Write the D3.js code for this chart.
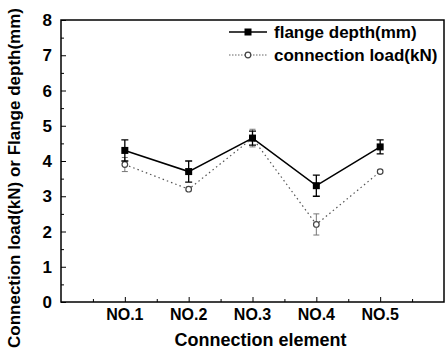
<!DOCTYPE html>
<html>
<head>
<meta charset="utf-8">
<script src="https://cdn.jsdelivr.net/npm/d3@7"></script>
<style>
  body { margin: 0; background: #fff; }
  svg { display: block; font-family: "Liberation Sans", Arial, sans-serif; font-weight: bold; }
</style>
</head>
<body>
<svg></svg>
<script>
const width = 445;
const height = 354;
const margin = { top: 20, right: 1, bottom: 52, left: 61 };

// data
const elements = ["NO.1", "NO.2", "NO.3", "NO.4", "NO.5"];
const flangeDepth = [4.3, 3.7, 4.65, 3.3, 4.4];
const flangeErr = [0.3, 0.3, 0.2, 0.3, 0.2];
const connLoad = [3.9, 3.2, 4.65, 2.2, 3.7];
const connErr = [0.2, 0.05, 0.25, 0.3, 0.05];
const yTicks = [0, 1, 2, 3, 4, 5, 6, 7, 8];

const svg = d3.select("svg").attr("width", width).attr("height", height);

const x = d3.scaleLinear().domain([0, 6]).range([margin.left, width - margin.right]);
const y = d3.scaleLinear().domain([0, 8]).range([height - margin.bottom, margin.top]);

// frame
svg.append("rect")
  .attr("x", x(0)).attr("y", y(8))
  .attr("width", x(6) - x(0)).attr("height", y(0) - y(8))
  .attr("fill", "none").attr("stroke", "#000").attr("stroke-width", 1.5);

// y axis, ticks pointing inward
const yAxis = svg.append("g")
  .attr("transform", `translate(${x(0)},0)`)
  .call(d3.axisRight(y).tickValues(yTicks).tickSize(5).tickFormat(""));
yAxis.select(".domain").remove();
svg.append("g")
  .attr("transform", `translate(${x(0)},0)`)
  .call(d3.axisRight(y).tickValues(d3.range(0.5, 8, 1)).tickSize(3).tickFormat(""))
  .select(".domain").remove();
svg.append("g").selectAll("text")
  .data(yTicks)
  .join("text")
  .attr("x", x(0) - 9)
  .attr("y", (d) => y(d) + 6)
  .attr("text-anchor", "end")
  .style("font-size", "17px")
  .text((d) => d);

// x axis, ticks pointing inward
const xAxis = svg.append("g")
  .attr("transform", `translate(0,${y(0)})`)
  .call(d3.axisTop(x).tickValues(d3.range(1, 6)).tickSize(5).tickFormat(""));
xAxis.select(".domain").remove();
svg.append("g")
  .attr("transform", `translate(0,${y(0)})`)
  .call(d3.axisTop(x).tickValues(d3.range(0.5, 6, 1)).tickSize(3).tickFormat(""))
  .select(".domain").remove();
svg.append("g").selectAll("text")
  .data(elements)
  .join("text")
  .attr("x", (d, i) => x(i + 1))
  .attr("y", y(0) + 18)
  .attr("text-anchor", "middle")
  .style("font-size", "16px")
  .text((d) => d);

// axis titles
svg.append("text")
  .attr("x", (x(0) + x(6)) / 2 + 8)
  .attr("y", height - 8)
  .attr("text-anchor", "middle")
  .style("font-size", "18px")
  .text("Connection element");

svg.append("text")
  .attr("transform", `translate(20,${(height + 6) / 2 - 2}) rotate(-90)`)
  .attr("text-anchor", "middle")
  .style("font-size", "17px")
  .text("Connection load(kN) or Flange depth(mm)");

// connection load series (dotted grey)
const line = d3.line().x((d, i) => x(i + 1)).y((d) => y(d));
svg.append("path")
  .datum(connLoad)
  .attr("d", line)
  .attr("fill", "none")
  .attr("stroke", "#555")
  .attr("stroke-width", 1.2)
  .attr("stroke-dasharray", "1.5,3");

svg.append("g").selectAll("path")
  .data(connLoad)
  .join("path")
  .attr("d", (d, i) => {
    const cx = x(i + 1), w = 3;
    return `M${cx},${y(d - connErr[i])}V${y(d + connErr[i])}` +
      `M${cx - w},${y(d - connErr[i])}H${cx + w}M${cx - w},${y(d + connErr[i])}H${cx + w}`;
  })
  .attr("stroke", "#777")
  .attr("stroke-width", 1);

svg.append("g").selectAll("circle")
  .data(connLoad)
  .join("circle")
  .attr("cx", (d, i) => x(i + 1))
  .attr("cy", (d) => y(d))
  .attr("r", 2.8)
  .attr("fill", "#fff")
  .attr("stroke", "#444")
  .attr("stroke-width", 1.2);

// flange depth series (solid black)
svg.append("path")
  .datum(flangeDepth)
  .attr("d", line)
  .attr("fill", "none")
  .attr("stroke", "#000")
  .attr("stroke-width", 1.5);

svg.append("g").selectAll("path")
  .data(flangeDepth)
  .join("path")
  .attr("d", (d, i) => {
    const cx = x(i + 1), w = 3.5;
    return `M${cx},${y(d - flangeErr[i])}V${y(d + flangeErr[i])}` +
      `M${cx - w},${y(d - flangeErr[i])}H${cx + w}M${cx - w},${y(d + flangeErr[i])}H${cx + w}`;
  })
  .attr("stroke", "#000")
  .attr("stroke-width", 1.3);

svg.append("g").selectAll("rect")
  .data(flangeDepth)
  .join("rect")
  .attr("x", (d, i) => x(i + 1) - 3.5)
  .attr("y", (d) => y(d) - 3.5)
  .attr("width", 7)
  .attr("height", 7)
  .attr("fill", "#000");

// legend
const legend = svg.append("g");
legend.append("line")
  .attr("x1", 229).attr("x2", 267).attr("y1", 32).attr("y2", 32)
  .attr("stroke", "#000").attr("stroke-width", 1.5);
legend.append("rect")
  .attr("x", 244.5).attr("y", 28.5).attr("width", 7).attr("height", 7).attr("fill", "#000");
legend.append("text")
  .attr("x", 274).attr("y", 38).style("font-size", "17px").text("flange depth(mm)");

legend.append("line")
  .attr("x1", 229).attr("x2", 267).attr("y1", 55).attr("y2", 55)
  .attr("stroke", "#666").attr("stroke-width", 1.2).attr("stroke-dasharray", "1.5,1.5");
legend.append("circle")
  .attr("cx", 248).attr("cy", 55).attr("r", 2.8)
  .attr("fill", "#fff").attr("stroke", "#444").attr("stroke-width", 1.2);
legend.append("text")
  .attr("x", 274).attr("y", 61).style("font-size", "17px").text("connection load(kN)");
</script>
</body>
</html>
